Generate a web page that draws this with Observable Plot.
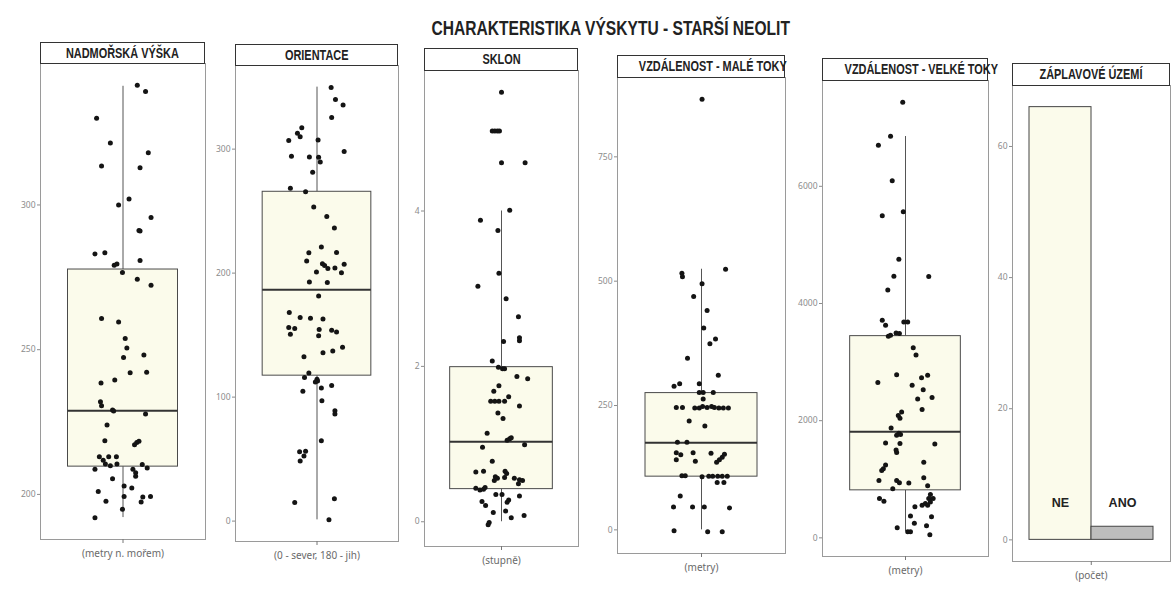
<!DOCTYPE html>
<html><head><meta charset="utf-8">
<script src="https://cdn.jsdelivr.net/npm/d3@7"></script>
<script src="https://cdn.jsdelivr.net/npm/@observablehq/plot@0.6"></script>
<style>
body{margin:0;background:#fff;}
#root{position:relative;width:1176px;height:592px;overflow:hidden;font-family:"Liberation Sans","DejaVu Sans",sans-serif;}
.title{position:absolute;left:311px;width:600px;top:16px;text-align:center;white-space:nowrap;}
.title span{display:inline-block;transform:scaleX(0.76);transform-origin:center;font-weight:bold;font-size:20.5px;font-family:"Liberation Sans",sans-serif;color:#222;}
.strip{position:absolute;box-sizing:border-box;border:1.5px solid #333;background:#fff;text-align:center;white-space:nowrap;overflow:visible;}
.strip span{display:inline-block;transform:scaleX(0.78);transform-origin:center;font-weight:bold;font-size:14px;font-family:"Liberation Sans",sans-serif;color:#222;}
.panel{position:absolute;}
</style></head>
<body><div id="root"></div>
<script>
// ---------- data ----------
const title = "CHARAKTERISTIKA VÝSKYTU - STARŠÍ NEOLIT";
const panelNames = ["NADMOŘSKÁ VÝŠKA","ORIENTACE","SKLON","VZDÁLENOST - MALÉ TOKY","VZDÁLENOST - VELKÉ TOKY","ZÁPLAVOVÉ ÚZEMÍ"];
const captions = ["(metry n. mořem)","(0 - sever, 180 - jih)","(stupně)","(metry)","(metry)","(počet)"];
const yTicks = [[200,250,300],[0,100,200,300],[0,2,4],[0,250,500,750],[0,2000,4000,6000],[0,20,40,60]];

// box statistics [lower whisker, q1, median, q3, upper whisker]
const boxVyska = [192, 209.6, 228.9, 277.7, 341];
const boxOrientace = [1, 117.3, 186.6, 265.6, 350];
const boxSklon = [0, 0.42, 1.03, 1.99, 4.0];
const boxMale = [0, 107, 175, 275, 524];
const boxVelke = [106, 811, 1813, 3443, 6850];

// points: [horizontal jitter (box half-widths), value]
const ptsVyska = [[0.26,341.4],[0.41,339.2],[-0.48,330],[-0.23,321.4],[0.46,318],[-0.39,313.5],[0.31,312.9],[0.11,302.1],[-0.08,300],[0.51,295.7],[0.29,291.2],[0.31,291],[-0.51,283.1],[-0.33,283.5],[0.31,280.8],[-0.16,279.2],[-0.11,279.6],[-0.01,276.7],[0.26,274.3],[0.51,272.3],[-0.39,260.8],[-0.08,259.6],[0.04,253.9],[0.07,250.6],[0.01,247.3],[0.38,248.2],[0.13,242],[0.43,242.2],[-0.40,238.5],[-0.15,239.5],[-0.41,232],[-0.39,230.6],[-0.19,229.2],[-0.17,228.8],[0.41,227.8],[-0.29,224],[-0.33,218.5],[0.25,217.9],[0.21,217.2],[0.29,218.4],[-0.43,213],[-0.36,211.8],[-0.26,213],[-0.12,213],[-0.32,210.5],[-0.23,209.9],[-0.11,210.5],[-0.51,208.7],[0.18,208.7],[0.23,207.5],[0.23,206.3],[0.35,210.3],[0.44,209.1],[-0.19,205.4],[0.02,202.9],[0.16,202.2],[-0.45,201],[0.02,199.3],[-0.31,197.6],[0.36,199.1],[0.33,197.4],[0.50,199.3],[-0.01,194.9],[-0.51,191.9]];
const ptsOrientace = [[0.26,349.8],[0.34,340.1],[0.48,335.5],[0.27,325.5],[-0.28,317.2],[-0.36,312.9],[-0.31,310],[-0.52,306.9],[0.02,307.4],[0.50,298],[-0.47,294.3],[-0.14,293.7],[0.03,293.4],[0.06,289.7],[-0.08,281.4],[-0.49,268.5],[-0.21,265.6],[-0.06,253.3],[0.18,245.6],[0.32,236.4],[0.08,221],[-0.15,216.4],[0.36,216.7],[-0.19,209.8],[0.10,207.5],[0.14,206.1],[0.20,203.8],[0.33,204.1],[0.50,207.2],[0.45,200.4],[-0.01,200.9],[-0.14,192.9],[0.19,192.4],[0.03,181.5],[-0.51,168.3],[-0.31,164.3],[-0.12,163.7],[0.11,162.9],[-0.52,156.2],[-0.41,155.3],[-0.49,150.6],[0.04,154.6],[0.03,149.4],[0.27,154],[0.36,152.6],[0.11,135.7],[0.29,137.1],[0.47,140.2],[-0.24,132.5],[-0.15,119.4],[-0.23,115.9],[0.00,114.5],[0.01,113],[-0.03,112.2],[0.08,107.3],[0.27,109.3],[-0.26,104.8],[0.09,97],[0.33,89],[0.33,86.4],[0.08,64.9],[-0.32,56],[-0.21,56.3],[-0.24,52.5],[-0.31,48.5],[-0.41,15.1],[0.32,18],[0.22,1.1]];
const ptsSklon = [[0.00,5.53],[-0.18,5.03],[-0.13,5.03],[-0.08,5.03],[-0.04,5.03],[0.00,4.62],[0.46,4.62],[0.16,4.01],[-0.41,3.88],[-0.07,3.75],[-0.05,3.20],[-0.46,3.03],[0.09,2.87],[0.33,2.64],[0.04,2.32],[0.35,2.33],[0.35,2.37],[-0.18,2.07],[-0.06,1.99],[0.02,1.97],[0.06,1.97],[0.30,1.87],[0.51,1.84],[-0.05,1.75],[-0.15,1.68],[0.14,1.61],[-0.21,1.55],[-0.13,1.55],[-0.05,1.55],[0.06,1.55],[0.35,1.49],[-0.07,1.40],[0.03,1.33],[-0.28,1.14],[0.16,1.07],[0.11,1.05],[0.19,1.08],[0.45,0.99],[-0.37,0.96],[-0.18,0.78],[-0.50,0.64],[-0.35,0.65],[0.07,0.65],[0.10,0.62],[-0.12,0.58],[-0.14,0.53],[-0.08,0.56],[0.06,0.57],[0.25,0.56],[0.35,0.54],[0.41,0.53],[0.33,0.49],[-0.50,0.43],[-0.42,0.41],[-0.35,0.42],[-0.32,0.44],[-0.11,0.35],[0.01,0.35],[-0.38,0.26],[0.14,0.28],[0.11,0.25],[0.35,0.33],[-0.31,0.21],[-0.16,0.12],[0.08,0.14],[0.19,0.05],[0.44,0.08],[-0.24,-0.01],[-0.26,-0.04]];
const ptsMale = [[0.01,866],[-0.35,516],[-0.34,509],[0.43,524],[0.01,495],[-0.14,469],[0.10,441],[0.04,406],[0.15,374],[0.25,384],[-0.25,345],[0.30,311],[-0.49,289],[-0.39,294],[-0.04,294],[-0.04,276],[0.03,276],[0.21,276],[0.03,263],[-0.45,246],[-0.34,246],[-0.12,245],[-0.04,245],[0.02,248],[0.10,246],[0.18,248],[0.23,246],[0.31,245],[0.39,245],[0.48,245],[-0.22,219],[0.06,209],[-0.43,176],[-0.26,176],[-0.45,155],[-0.37,151],[-0.45,141],[-0.15,155],[-0.11,138],[0.17,154],[0.41,152],[0.37,146],[0.32,141],[0.27,136],[-0.35,109],[-0.29,109],[0.01,107],[0.13,108],[0.20,108],[0.29,108],[0.37,108],[0.46,108],[0.28,95],[0.40,95],[-0.38,68],[-0.50,46],[-0.16,46],[0.05,46],[0.50,44],[-0.49,-2],[0.11,-4],[0.37,-4]];
const ptsVelke = [[-0.05,7437],[-0.27,6853],[-0.49,6701],[-0.24,6096],[-0.42,5497],[-0.04,5565],[-0.12,4754],[-0.21,4467],[0.42,4462],[-0.32,4230],[-0.42,3713],[-0.36,3628],[-0.03,3684],[0.04,3684],[-0.31,3443],[-0.27,3459],[-0.17,3498],[-0.11,3486],[0.14,3245],[0.19,3121],[-0.16,2783],[-0.50,2653],[0.29,2733],[0.40,2777],[0.12,2603],[0.32,2530],[0.22,2371],[0.48,2395],[0.30,2192],[-0.07,2146],[-0.13,2090],[-0.10,2040],[-0.26,1876],[-0.12,1786],[-0.16,1753],[-0.09,1763],[-0.36,1617],[-0.10,1611],[0.53,1600],[-0.17,1499],[-0.16,1458],[0.33,1289],[-0.36,1245],[-0.40,1178],[-0.43,1149],[-0.48,980],[-0.16,980],[-0.11,941],[0.06,935],[0.33,1026],[0.40,891],[-0.23,840],[0.45,739],[0.42,671],[0.50,671],[0.45,613],[-0.47,671],[-0.39,625],[0.36,586],[0.30,558],[0.40,558],[0.17,529],[0.47,360],[0.09,372],[0.16,248],[-0.15,174],[0.38,208],[0.04,106],[0.09,106],[0.44,51]];

const floodCats = ["NE","ANO"];
const floodCounts = [66, 2];

// ---------- layout ----------
const layout = [
  {x:40,  w:165, strip:42, top:63},
  {x:235, w:163, strip:44, top:65},
  {x:424, w:154, strip:48, top:70},
  {x:617, w:168, strip:55, top:77},
  {x:822, w:166, strip:58, top:80},
  {x:1012,w:158, strip:63, top:85}
];
const FH = 476, ML = 40, MB = 30;
const CREAM = "#fbfbeb";

const root = document.getElementById("root");
const t = document.createElement("div");
t.className = "title";
const ts = document.createElement("span"); ts.textContent = title; t.appendChild(ts);
root.appendChild(t);

function addStrip(i) {
  const L = layout[i];
  const s = document.createElement("div");
  s.className = "strip";
  s.style.left = L.x + "px"; s.style.top = L.strip + "px";
  s.style.width = L.w + "px"; s.style.height = (L.top - L.strip + 1) + "px";
  s.style.lineHeight = (L.top - L.strip - 2) + "px";
  const sp = document.createElement("span"); sp.textContent = panelNames[i]; s.appendChild(sp);
  root.appendChild(s);
}
function place(i, svg) {
  const L = layout[i];
  const d = document.createElement("div");
  d.className = "panel";
  d.style.left = (L.x - ML) + "px"; d.style.top = L.top + "px";
  d.appendChild(svg); root.appendChild(d);
}
const axisStyle = {tickSize: 3, fontSize: 8.5, color: "#8c8c8c", tickPadding: 2, label: null, tickFormat: d => String(d)};
const capStyle = {tickSize: 4, fontSize: 10, color: "#6a6a6a", tickPadding: 6, stroke: "#777", label: null};

function boxPanel(i, pts, box) {
  const L = layout[i];
  const st = {lo: box[0], q1: box[1], med: box[2], q3: box[3], hi: box[4]};
  const vals = pts.map(p => p[1]).concat([st.lo, st.hi]);
  const [mn, mx] = d3.extent(vals);
  const pad = (mx - mn) * 0.05;
  const svg = Plot.plot({
    width: ML + L.w, height: FH + MB,
    marginLeft: ML, marginRight: 0, marginTop: 0, marginBottom: MB,
    style: {background: "transparent", overflow: "visible"},
    x: {domain: [-1.5, 1.5]},
    y: {domain: [mn - pad, mx + pad]},
    marks: [
      Plot.frame({stroke: "#9a9a9a"}),
      Plot.axisY(yTicks[i], axisStyle),
      Plot.axisX([0], {...capStyle, tickFormat: () => captions[i]}),
      Plot.ruleX([st], {x: 0, y1: "lo", y2: "q1", stroke: "#555", strokeWidth: 1}),
      Plot.ruleX([st], {x: 0, y1: "q3", y2: "hi", stroke: "#555", strokeWidth: 1}),
      Plot.rect([st], {x1: -1, x2: 1, y1: "q1", y2: "q3", fill: CREAM, stroke: "#4a4a4a", strokeWidth: 1}),
      Plot.ruleY([st], {y: "med", x1: -1, x2: 1, stroke: "#333", strokeWidth: 2}),
      Plot.dot(pts, {x: d => d[0], y: d => d[1], r: 2.5, fill: "#141414", stroke: null})
    ]
  });
  place(i, svg);
  addStrip(i);
}

boxPanel(0, ptsVyska, boxVyska);
boxPanel(1, ptsOrientace, boxOrientace);
boxPanel(2, ptsSklon, boxSklon);
boxPanel(3, ptsMale, boxMale);
boxPanel(4, ptsVelke, boxVelke);

// flood panel
(function(){
  const i = 5, L = layout[i];
  const data = floodCats.map((c, k) => ({cat: c, n: floodCounts[k]}));
  const mx = d3.max(floodCounts), pad = mx * 0.05;
  const po = 0.265;
  const step = L.w / (floodCats.length + 2 * po);
  const svg = Plot.plot({
    width: ML + L.w, height: FH + MB,
    marginLeft: ML, marginRight: 0, marginTop: 0, marginBottom: MB,
    style: {background: "transparent", overflow: "visible"},
    x: {type: "band", domain: floodCats, paddingInner: 0, paddingOuter: po},
    y: {domain: [-pad, mx + pad]},
    color: {domain: floodCats, range: [CREAM, "#bdbdbd"]},
    marks: [
      Plot.frame({stroke: "#9a9a9a"}),
      Plot.axisY(yTicks[i], axisStyle),
      Plot.axisX([floodCats[1]], {...capStyle, tickFormat: () => captions[i], dx: -step / 2}),
      Plot.barY(data, {x: "cat", y: "n", fill: "cat", stroke: "#444", strokeWidth: 1}),
      Plot.text(data, {x: "cat", y: 5.6, text: "cat", fontWeight: "bold", fontSize: 12.5, fill: "#222",
        fontFamily: "Liberation Sans, sans-serif"})
    ]
  });
  place(i, svg);
  addStrip(i);
})();
</script></body></html>
